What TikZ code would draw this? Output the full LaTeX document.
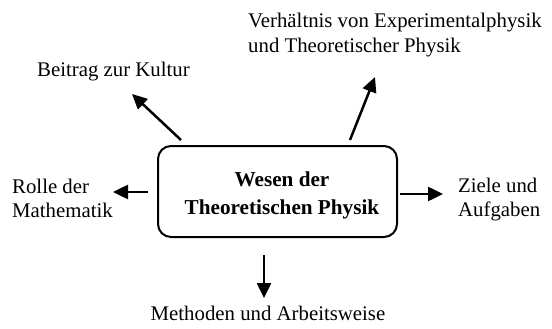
\documentclass[tikz,border=0pt]{standalone}
\usepackage{fontspec}
\setmainfont{Liberation Serif}
\usetikzlibrary{arrows.meta}
\begin{document}
\begin{tikzpicture}[x=1pt,y=-1pt,
  lbl/.style={anchor=base west, inner sep=0pt, font=\fontsize{20.8}{25}\selectfont},
  arr/.style={line width=2.5pt, -{Triangle[length=15pt,width=14pt]}},
  corebox/.style={draw, line width=2pt, rounded corners=13pt, minimum width=239pt, minimum height=91pt, inner sep=0pt}]
\useasboundingbox (0,0) rectangle (552,329);
\node[corebox] (core) at (277.5,191.5) {};
\node[anchor=base, inner sep=0pt, font=\fontsize{21.2}{28}\selectfont\bfseries] (title) at (282,186)
  {\begin{tabular}[t]{@{}c@{}}Wesen der\\Theoretischen Physik\end{tabular}};
\node[lbl] (verh) at (248,28)
  {\begin{tabular}[t]{@{}l@{}}Verhältnis von Experimentalphysik\\und Theoretischer Physik\end{tabular}};
\node[lbl] (beitrag) at (37,77) {Beitrag zur Kultur};
\node[lbl, font=\fontsize{20.8}{24.5}\selectfont] (rolle) at (12,193)
  {\begin{tabular}[t]{@{}l@{}}Rolle der\\Mathematik\end{tabular}};
\node[lbl, font=\fontsize{20.8}{24}\selectfont] (ziele) at (458,192)
  {\begin{tabular}[t]{@{}l@{}}Ziele und\\Aufgaben\end{tabular}};
\node[lbl, anchor=base] (methoden) at (268,320) {Methoden und Arbeitsweise};
\coordinate (b0) at (181,140); \coordinate (b1) at (132,94);
\coordinate (v0) at (350,140); \coordinate (v1) at (375,77);
\coordinate (l0) at (148,192); \coordinate (l1) at (113,192);
\coordinate (r0) at (400,194); \coordinate (r1) at (443,194);
\coordinate (d0) at (264,255); \coordinate (d1) at (264,298);
\draw[arr] (b0) -- (b1);
\draw[arr] (v0) -- (v1);
\draw[arr] (l0) -- (l1);
\draw[arr] (r0) -- (r1);
\draw[arr] (d0) -- (d1);
\end{tikzpicture}
\end{document}
